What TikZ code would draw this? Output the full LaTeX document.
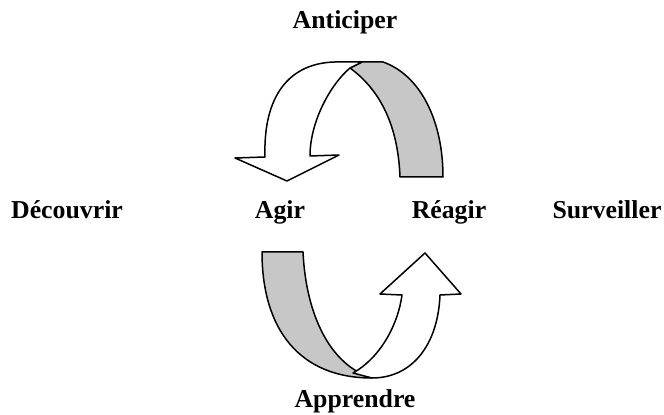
\documentclass[tikz,border=0pt]{standalone}
\usepackage{fontspec}
\setmainfont{Liberation Serif}
\usetikzlibrary{positioning}

\begin{document}
\begin{tikzpicture}[
    x=0.5pt,y=-0.5pt,
    word/.style={font=\fontsize{12.9}{15}\selectfont\bfseries,
                 anchor=base,inner sep=0pt},
    front/.style={draw,fill=white,line width=0.75pt,line join=round},
    back/.style={draw,fill=gray!44,line width=0.75pt,line join=round},
]
\useasboundingbox (0,0) rectangle (664,415);

% ---- Top arrow (Anticiper) -----------------------------------------------
\draw[back] (350,68) -- (362,62) -- (383,62)
    .. controls (420,75) and (443,120) .. (443,177) -- (400,177)
    .. controls (398,125) and (380,90) .. cycle;
\draw[front] (265,157) .. controls (263,95) and (290,63) .. (335,62)
    -- (362,62) -- (350,68)
    .. controls (330,85) and (310,122) .. (310,156)
    -- (339,155) -- (287,181) -- (235,158) -- cycle;

% ---- Bottom arrow (Apprendre) --------------------------------------------
\draw[back] (262,252) -- (303,252)
    .. controls (306,315) and (330,365) .. (372,378)
    .. controls (300,378) and (262,330) .. cycle;
\draw[front] (353,373) .. controls (380,358) and (398,325) .. (402,295)
    -- (380,294) -- (425,253) -- (461,294) -- (440,295)
    .. controls (438,345) and (412,378) .. (372,378) -- cycle;

% ---- Labels ---------------------------------------------------------------
\node[word] (anticiper) at (345,29)  {Anticiper};
\node[word] (decouvrir) at (67,219)  {Découvrir};
\node[word] (agir)      at (280,219) {Agir};
\node[word] (reagir)    at (449,219) {Réagir};
\node[word] (surveiller) at (607,219) {Surveiller};
\node[word] (apprendre) at (355,408) {Apprendre};

\end{tikzpicture}
\end{document}
